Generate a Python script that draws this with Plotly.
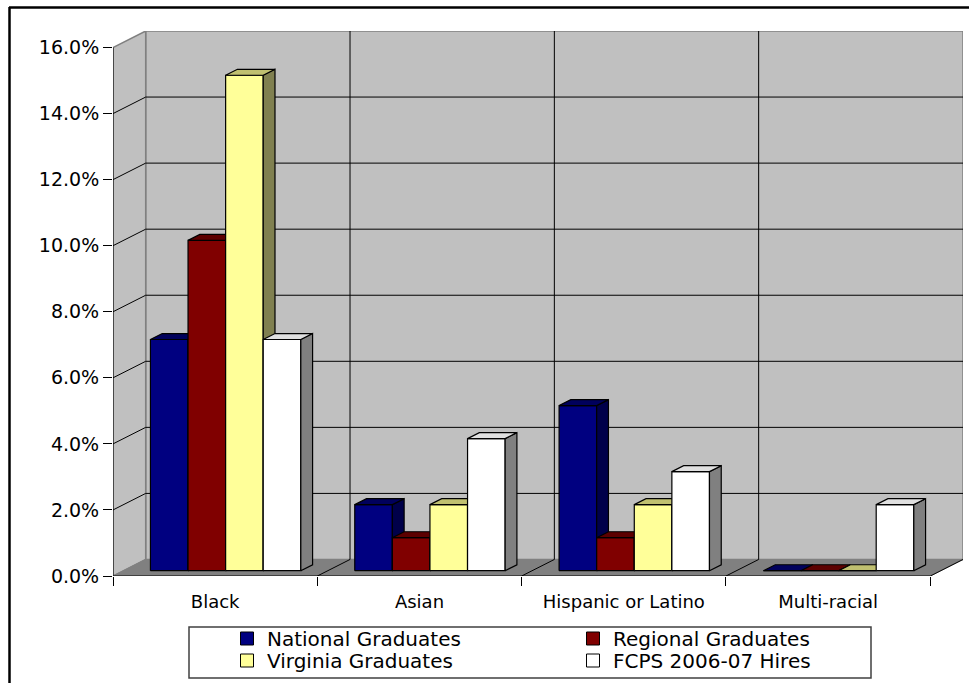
import plotly.graph_objects as go

# ---------------- data ----------------
categories = ["Black", "Asian", "Hispanic or Latino", "Multi-racial"]
series_names = ["National Graduates", "Regional Graduates", "Virginia Graduates", "FCPS 2006-07 Hires"]
national = [7.0, 2.0, 5.0, 0.0]
regional = [10.0, 1.0, 1.0, 0.0]
virginia = [15.0, 2.0, 2.0, 0.0]
fcps = [7.0, 4.0, 3.0, 2.0]
y_tick_values = [0, 2, 4, 6, 8, 10, 12, 14, 16]
y_tick_labels = ["0.0%", "2.0%", "4.0%", "6.0%", "8.0%", "10.0%", "12.0%", "14.0%", "16.0%"]

series_values = [national, regional, virginia, fcps]

# ---------------- style ----------------
front_colors = ["#000080", "#800000", "#FFFF99", "#FFFFFF"]
top_colors = ["#00005C", "#5C0000", "#C0C070", "#E0E0E0"]
side_colors = ["#00004A", "#4A0000", "#808050", "#808080"]
legend_of_series = ["legend", "legend", "legend2", "legend2"]
FONT = "DejaVu Sans"

W, H = 969, 683
ML, MR, MT, MB = 113, 6, 31, 107
DX, DY = 0.16, 0.5          # depth offset of the 3-D box (x units, y units)
YMAX = y_tick_values[-1]
F0, F1 = 0.32, 0.68         # bar depth position (fraction of box depth)
BW = 0.184                  # bar width (category units)
NC = len(categories)
XL, XR = -0.5, NC - 0.5

fig = go.Figure()

# ---------------- bars (front / side / top faces) ----------------
for s, values in enumerate(series_values):
    fx, fy, tx, ty, sx, sy = [], [], [], [], [], []
    ddx, ddy = DX * (F1 - F0), DY * (F1 - F0)
    b = DY * F0
    for i, v in enumerate(values):
        xc = i + (s - 1.5) * BW
        x0 = xc - BW / 2 + DX * F0
        x1 = xc + BW / 2 + DX * F0
        top = b + v
        fx += [x0, x1, x1, x0, x0, None]
        fy += [b, b, top, top, b, None]
        tx += [x0, x1, x1 + ddx, x0 + ddx, x0, None]
        ty += [top, top, top + ddy, top + ddy, top, None]
        sx += [x1, x1 + ddx, x1 + ddx, x1, x1, None]
        sy += [b, b + ddy, top + ddy, top, b, None]
    for xs, ys, col in ((fx, fy, front_colors[s]), (sx, sy, side_colors[s]), (tx, ty, top_colors[s])):
        fig.add_trace(go.Scatter(
            x=xs, y=ys, mode="lines", fill="toself", fillcolor=col,
            line=dict(color="black", width=1.2), showlegend=False, hoverinfo="skip"))

# legend entries
for s, name in enumerate(series_names):
    fig.add_trace(go.Scatter(
        x=[None], y=[None], mode="markers", name=name, legend=legend_of_series[s],
        marker=dict(symbol="square", size=13, color=front_colors[s],
                    line=dict(color="black", width=1))))

# ---------------- 3-D box: walls, floor, gridlines ----------------
shapes = []
wall = "#C0C0C0"
edge = "#808080"
shapes.append(dict(type="path", xref="x", yref="y", layer="below",
                   path=f"M{XL+DX},{DY} L{XR+DX},{DY} L{XR+DX},{YMAX+DY} L{XL+DX},{YMAX+DY} Z",
                   fillcolor=wall, line=dict(color=edge, width=1.5)))
shapes.append(dict(type="path", xref="x", yref="y", layer="below",
                   path=f"M{XL},0 L{XL+DX},{DY} L{XL+DX},{YMAX+DY} L{XL},{YMAX} Z",
                   fillcolor=wall, line=dict(color=edge, width=1.5)))
shapes.append(dict(type="path", xref="x", yref="y", layer="below",
                   path=f"M{XL},0 L{XR},0 L{XR+DX},{DY} L{XL+DX},{DY} Z",
                   fillcolor="#808080", line=dict(color=edge, width=1)))
for k in y_tick_values[1:-1]:
    shapes.append(dict(type="line", xref="x", yref="y", layer="below",
                       x0=XL + DX, x1=XR + DX, y0=k + DY, y1=k + DY,
                       line=dict(color="black", width=1)))
    shapes.append(dict(type="line", xref="x", yref="y", layer="below",
                       x0=XL, x1=XL + DX, y0=k, y1=k + DY,
                       line=dict(color="black", width=1)))
for i in range(NC - 1):
    xb = i + 0.5
    shapes.append(dict(type="line", xref="x", yref="y", layer="below",
                       x0=xb + DX, x1=xb + DX, y0=DY, y1=YMAX + DY,
                       line=dict(color="black", width=1)))
for i in range(NC):
    xb = i + 0.5
    shapes.append(dict(type="line", xref="x", yref="y", layer="below",
                       x0=xb, x1=xb + DX, y0=0, y1=DY,
                       line=dict(color="black", width=1)))
# front axis lines
shapes.append(dict(type="line", xref="x", yref="y", x0=XL, x1=XL, y0=0, y1=YMAX,
                   line=dict(color="black", width=1)))
shapes.append(dict(type="line", xref="x", yref="y", x0=XL, x1=XR, y0=0, y1=0,
                   line=dict(color="black", width=1)))

# legend frame and outer border (paper coords)
pw, ph = W - ML - MR, H - MT - MB
def px_x(p):
    return (p - ML) / pw
def px_y(p):
    return (H - MB - p) / ph
shapes.append(dict(type="rect", xref="paper", yref="paper",
                   x0=px_x(189), x1=px_x(871), y0=px_y(678), y1=px_y(627),
                   line=dict(color="#404040", width=1.5), fillcolor="rgba(0,0,0,0)"))
shapes.append(dict(type="line", xref="paper", yref="paper",
                   x0=px_x(9.5), x1=px_x(9.5), y0=px_y(7), y1=px_y(700),
                   line=dict(color="black", width=2.5)))
shapes.append(dict(type="line", xref="paper", yref="paper",
                   x0=px_x(9), x1=px_x(980), y0=px_y(7.5), y1=px_y(7.5),
                   line=dict(color="black", width=2.5)))

legend_common = dict(orientation="h", xref="container", yref="container",
                     x=227 / W, xanchor="left", yanchor="top",
                     entrywidth=301, entrywidthmode="pixels",
                     bgcolor="rgba(0,0,0,0)", borderwidth=0,
                     font=dict(family=FONT, size=20, color="black"),
                     itemclick=False, itemdoubleclick=False)

fig.update_layout(
    width=W, height=H,
    margin=dict(l=ML, r=MR, t=MT, b=MB, pad=0),
    paper_bgcolor="white", plot_bgcolor="white",
    font=dict(family=FONT, size=18, color="black"),
    shapes=shapes,
    showlegend=True,
    legend=dict(legend_common, y=1 - 619 / H),
    legend2=dict(legend_common, y=1 - 641 / H),
    xaxis=dict(range=[XL, XR + DX], showgrid=False, zeroline=False, showline=False,
               tickmode="array", tickvals=list(range(NC)), ticktext=categories,
               ticks="outside", ticklen=9, tickcolor="rgba(0,0,0,0)",
               tickfont=dict(family=FONT, size=18, color="black"),
               minor=dict(tickmode="array", tickvals=[i - 0.5 for i in range(NC + 1)],
                          ticks="outside", ticklen=9, tickcolor="black", tickwidth=1,
                          showgrid=False),
               fixedrange=True),
    yaxis=dict(range=[0, YMAX + DY], showgrid=False, zeroline=False, showline=False,
               tickmode="array", tickvals=y_tick_values, ticktext=y_tick_labels,
               ticks="outside", ticklen=9, tickcolor="black", tickwidth=1,
               tickfont=dict(family=FONT, size=19, color="black"),
               fixedrange=True),
)

fig.write_html("out.html")
